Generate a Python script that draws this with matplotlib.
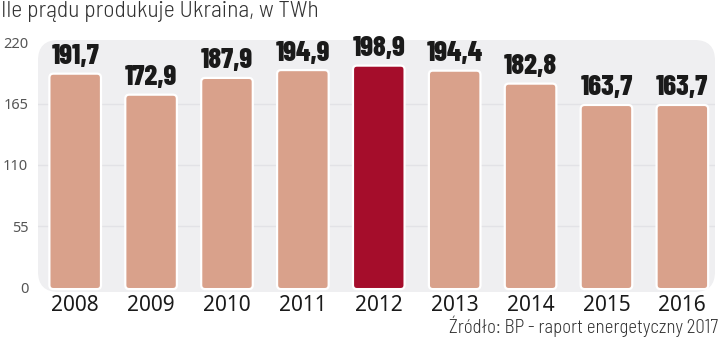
import numpy as np
import matplotlib
matplotlib.use("Agg")
from matplotlib import pyplot as plt
from matplotlib.patches import FancyBboxPatch

years = ["2008", "2009", "2010", "2011", "2012", "2013", "2014", "2015", "2016"]
values = [191.7, 172.9, 187.9, 194.9, 198.9, 194.4, 182.8, 163.7, 163.7]
labels = ["191,7", "172,9", "187,9", "194,9", "198,9", "194,4", "182,8", "163,7", "163,7"]
highlight = "2012"
yticks = [0, 55, 110, 165, 220]

fig = plt.figure(figsize=(7.2, 3.39), dpi=100)
ax = fig.add_axes([38 / 720, 47 / 339, 677 / 720, 252 / 339])

x = np.arange(len(years))
ax.set_xlim(-0.49, 8.43)
ax.set_ylim(-3.6, 221.8)

# rounded grey panel behind the bars
ax.add_patch(FancyBboxPatch((0, 0), 1, 1, boxstyle="round,pad=0,rounding_size=0.03",
                            mutation_aspect=677 / 252, transform=ax.transAxes,
                            facecolor="#efeff1", edgecolor="none", zorder=0))
for t in yticks[1:-1]:
    ax.axhline(t, color="#e2e2e6", lw=1, zorder=0.5)

# bars with rounded corners
xpp = (8.43 + 0.49) / 677
ypp = (221.8 + 3.6) / 252
bars = ax.bar(x, values, width=0.68, alpha=0)
for b, yr in zip(bars, years):
    col = "#a50d2b" if yr == highlight else "#d9a18b"
    p = FancyBboxPatch((b.get_x(), -1), b.get_width(), b.get_height() + 1,
                       boxstyle="round,pad=0,rounding_size=%f" % (4 * xpp),
                       mutation_aspect=ypp / xpp, facecolor=col,
                       edgecolor="white", lw=1.6, zorder=2)
    ax.add_patch(p)

for xi, v, lab in zip(x, values, labels):
    ax.text(xi, v + 8.5, lab, ha="center", va="baseline", fontsize=20.5,
            fontweight=800, family="Barlow Condensed",
            color="#1a1a1a", zorder=3)

ax.set_xticks(x)
ax.set_xticklabels(years, fontsize=15, color="#1a1a1a", family="Noto Sans")
ax.set_yticks(yticks)
ax.set_yticklabels([str(t) for t in yticks], fontsize=10.5, color="#555555",
                   family="Noto Sans")
ax.tick_params(length=0)
ax.tick_params(axis="x", pad=2)
ax.tick_params(axis="y", pad=7)
for s in ax.spines.values():
    s.set_visible(False)
ax.set_facecolor("none")

fig.text(0.002, 0.997, "Ile prądu produkuje Ukraina, w TWh", ha="left", va="top",
         fontsize=17, family="Barlow Semi Condensed", fontweight=300, color="#333333")
fig.text(0.998, 0.006, "Źródło: BP - raport energetyczny 2017", ha="right", va="bottom",
         fontsize=13.5, family="Barlow Semi Condensed", fontweight=300, color="#333333")

fig.savefig("out.png", dpi=100)
